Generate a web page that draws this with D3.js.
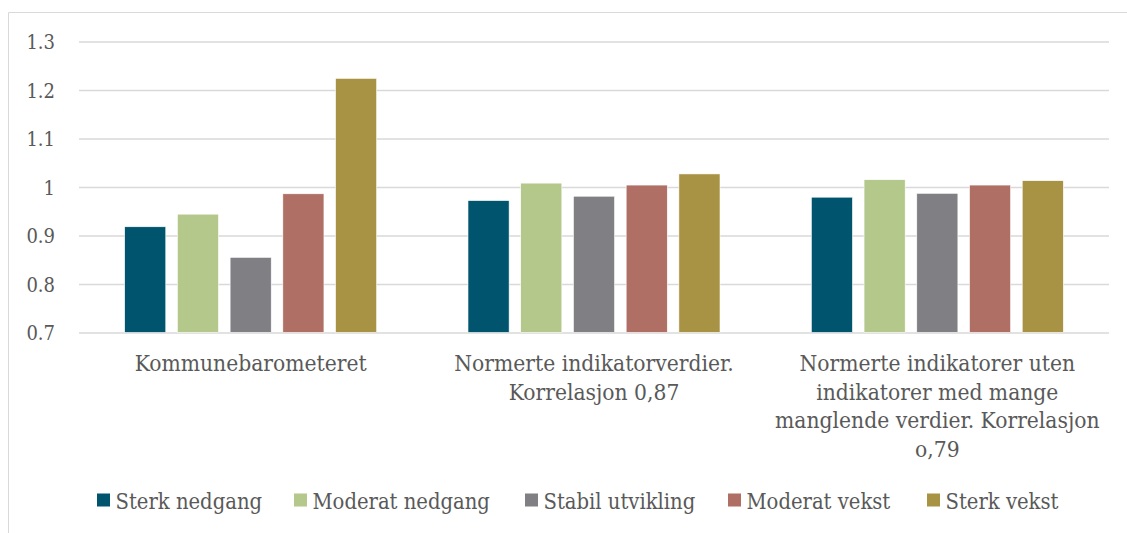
<!DOCTYPE html>
<html>
<head>
<meta charset="utf-8">
<script src="https://cdn.jsdelivr.net/npm/d3@7"></script>
<style>
  body { margin: 0; background: #fff; }
  svg text { font-family: "DejaVu Serif Condensed", "DejaVu Serif", serif; font-stretch: condensed; fill: #595959; }
</style>
</head>
<body>
<svg id="chart" width="1127" height="533"></svg>
<script>
// categories and series
const categories = [
    "Kommunebarometeret",
    "Normerte indikatorverdier. Korrelasjon 0,87",
    "Normerte indikatorer uten indikatorer med mange manglende verdier. Korrelasjon o,79"
];
const categoryLines = [
    ["Kommunebarometeret"],
    ["Normerte indikatorverdier.", "Korrelasjon 0,87"],
    ["Normerte indikatorer uten", "indikatorer med mange", "manglende verdier. Korrelasjon", "o,79"]
];
const seriesNames = ["Sterk nedgang", "Moderat nedgang", "Stabil utvikling", "Moderat vekst", "Sterk vekst"];
const seriesColors = ["#00546e", "#b3c88a", "#807f84", "#af6f65", "#a89344"];

const sterkNedgang = [0.918, 0.972, 0.979];
const moderatNedgang = [0.944, 1.008, 1.015];
const stabilUtvikling = [0.855, 0.981, 0.987];
const moderatVekst = [0.986, 1.004, 1.004];
const sterkVekst = [1.224, 1.027, 1.013];
const seriesValues = [sterkNedgang, moderatNedgang, stabilUtvikling, moderatVekst, sterkVekst];

const yTicks = [0.7, 0.8, 0.9, 1, 1.1, 1.2, 1.3];

const svg = d3.select('#chart');
const margin = {left: 79, right: 18, top: 41.5, bottom: 200.5};
const width = 1127, height = 533;

// outer chart border (only top + left are visible in the crop)
svg.append('path')
    .attr('d', 'M8.5,533 L8.5,12.5 L1127,12.5')
    .attr('fill', 'none')
    .attr('stroke', '#d9d9d9')
    .attr('stroke-width', 1);

const x0 = d3.scaleBand()
    .domain(d3.range(categories.length))
    .range([margin.left, width - margin.right])
    .paddingInner(0)
    .paddingOuter(0);

const y = d3.scaleLinear()
    .domain([0.7, 1.3])
    .range([height - margin.bottom, margin.top]);

// gridlines
const yAxis = d3.axisLeft(y)
    .tickValues(yTicks)
    .tickSize(-(width - margin.left - margin.right))
    .tickFormat(d => d3.format('')(d))
    .tickPadding(24);

const gy = svg.append('g')
    .attr('transform', 'translate(' + margin.left + ',0)')
    .call(yAxis);
gy.attr('font-family', null).attr('font-size', null);
gy.select('.domain').remove();
gy.selectAll('.tick line').attr('stroke', '#d9d9d9').attr('stroke-width', 1.3);
gy.selectAll('.tick text')
    .attr('font-size', '20px')
    .attr('dy', '0.36em')
    .attr('fill', '#595959');

// bars
const groupWidth = x0.bandwidth() * 0.734;
const x1 = d3.scaleBand()
    .domain(d3.range(seriesNames.length))
    .range([0, groupWidth])
    .paddingInner(0.22);

const groups = svg.append('g').selectAll('g')
    .data(categories)
    .enter().append('g')
    .attr('transform', (d, i) => 'translate(' + (x0(i) + (x0.bandwidth() - groupWidth) / 2) + ',0)');

groups.selectAll('rect')
    .data((d, i) => seriesValues.map((s, j) => ({series: j, value: s[i]})))
    .enter().append('rect')
    .attr('x', d => x1(d.series))
    .attr('width', x1.bandwidth())
    .attr('y', d => y(d.value))
    .attr('height', d => y(0.7) - y(d.value))
    .attr('fill', d => seriesColors[d.series])
    .attr('stroke', '#fff')
    .attr('stroke-width', 0.6);

// category labels
const catLabels = svg.append('g').selectAll('text')
    .data(categoryLines)
    .enter().append('text')
    .attr('text-anchor', 'middle')
    .attr('font-size', '22.6px')
    .attr('x', (d, i) => x0(i) + x0.bandwidth() / 2)
    .attr('y', 371);

catLabels.selectAll('tspan')
    .data(d => d)
    .enter().append('tspan')
    .attr('x', function() { return d3.select(this.parentNode).attr('x'); })
    .attr('dy', (d, i) => i === 0 ? 0 : 28.5)
    .text(d => d);

// legend
const legendX = [97, 294, 525, 728, 927];
const legend = svg.append('g').selectAll('g')
    .data(seriesNames)
    .enter().append('g')
    .attr('transform', (d, i) => 'translate(' + legendX[i] + ',493.5)');

legend.append('rect')
    .attr('width', 13)
    .attr('height', 13)
    .attr('fill', (d, i) => seriesColors[i]);

legend.append('text')
    .attr('x', 18.5)
    .attr('y', 15)
    .attr('font-size', '21.8px')
    .text(d => d);
</script>
</body>
</html>
